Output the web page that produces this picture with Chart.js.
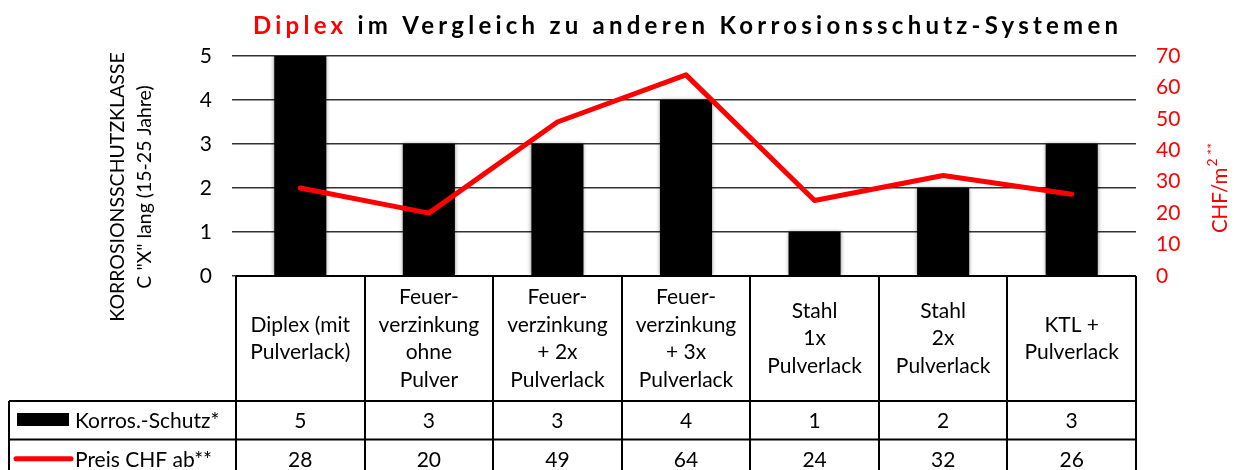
<!DOCTYPE html>
<html>
<head>
<meta charset="utf-8">
<script src="https://cdn.jsdelivr.net/npm/chart.js@4/dist/chart.umd.min.js"></script>
<style>
  html, body { margin: 0; padding: 0; background: #ffffff; }
  #wrap { width: 1234px; height: 470px; }
</style>
</head>
<body>
<div id="wrap"><canvas id="c" width="1234" height="470"></canvas></div>
<script>
// ---- data ----
const categories = [
  ["Diplex (mit", "Pulverlack)"],
  ["Feuer-", "verzinkung", "ohne", "Pulver"],
  ["Feuer-", "verzinkung", "+ 2x", "Pulverlack"],
  ["Feuer-", "verzinkung", "+ 3x", "Pulverlack"],
  ["Stahl", "1x", "Pulverlack"],
  ["Stahl", "2x", "Pulverlack"],
  ["KTL +", "Pulverlack"]
];
const korrosSchutz = [5, 3, 3, 4, 1, 2, 3];
const preisCHF = [28, 20, 49, 64, 24, 32, 26];
const seriesNames = ["Korros.-Schutz*", "Preis CHF ab**"];
const titleRed = "Diplex";
const titleRest = " im Vergleich zu anderen Korrosionsschutz-Systemen";
const leftAxisTitle = ["KORROSIONSSCHUTZKLASSE", "C \"X\" lang (15-25 Jahre)"];
const rightAxisTitle = ["CHF/m", "2 **"];

const FONT = "Lato, 'Noto Sans', sans-serif";
const RED = "#FF0000";

const tablePlugin = {
  id: 'tablePlugin',
  beforeDatasetDraw(chart, args) {
    if (args.meta.type === 'bar') {
      const ctx = chart.ctx;
      ctx.save();
      ctx.shadowColor = 'rgba(0,0,0,0.45)';
      ctx.shadowBlur = 4;
      ctx.shadowOffsetX = 0;
      ctx.shadowOffsetY = 0;
    }
  },
  afterDatasetDraw(chart, args) {
    if (args.meta.type === 'bar') chart.ctx.restore();
  },
  afterDraw(chart) {
    const ctx = chart.ctx;
    const area = chart.chartArea;
    const x = chart.scales.x;
    const n = categories.length;
    const colW = (area.right - area.left) / n;
    const top = area.bottom;
    const row1 = 401, row2 = 439.5, bottom = 480, legendLeft = 9;

    ctx.save();
    // title
    ctx.font = "bold 24px " + FONT;
    ctx.textBaseline = 'alphabetic';
    ctx.textAlign = 'left';
    const full = titleRed + titleRest;
    ctx.letterSpacing = '0px';
    const w0 = ctx.measureText(full).width;
    const targetW = 869;
    const ls = (targetW - w0) / full.length;
    ctx.letterSpacing = ls.toFixed(2) + 'px';
    let tx = 253;
    ctx.fillStyle = RED;
    ctx.fillText(titleRed, tx, 34);
    tx += ctx.measureText(titleRed).width;
    ctx.fillStyle = '#000';
    ctx.fillText(titleRest, tx, 34);
    ctx.letterSpacing = '0px';

    // left axis title
    ctx.save();
    ctx.translate(118, 187);
    ctx.rotate(-Math.PI / 2);
    ctx.font = "19.5px " + FONT;
    ctx.fillStyle = '#000';
    ctx.textAlign = 'center';
    ctx.textBaseline = 'middle';
    ctx.fillText(leftAxisTitle[0], 0, 0);
    ctx.fillText(leftAxisTitle[1], 0, 27);
    ctx.restore();

    // right axis title
    ctx.save();
    ctx.translate(1220, 188);
    ctx.rotate(-Math.PI / 2);
    ctx.fillStyle = RED;
    ctx.textBaseline = 'middle';
    ctx.font = "20.5px " + FONT;
    const wa = ctx.measureText(rightAxisTitle[0]).width;
    ctx.font = "14px " + FONT;
    const wb = ctx.measureText(rightAxisTitle[1]).width;
    const startX = -(wa + wb + 1) / 2;
    ctx.font = "20.5px " + FONT;
    ctx.textAlign = 'left';
    ctx.fillText(rightAxisTitle[0], startX, 0);
    ctx.font = "14px " + FONT;
    ctx.fillText(rightAxisTitle[1], startX + wa + 1, -8);
    ctx.restore();

    // table lines
    ctx.strokeStyle = '#000';
    ctx.lineWidth = 2;
    ctx.beginPath();
    ctx.moveTo(area.left, top); ctx.lineTo(area.right, top);
    ctx.moveTo(legendLeft, row1); ctx.lineTo(area.right, row1);
    ctx.moveTo(legendLeft, row2); ctx.lineTo(area.right, row2);
    for (let i = 0; i <= n; i++) {
      const vx = Math.round(area.left + i * colW);
      ctx.moveTo(vx, top); ctx.lineTo(vx, bottom);
    }
    ctx.moveTo(legendLeft, row1); ctx.lineTo(legendLeft, bottom);
    ctx.stroke();

    // category header text
    ctx.font = "21px " + FONT;
    ctx.fillStyle = '#000';
    ctx.textAlign = 'center';
    ctx.textBaseline = 'middle';
    const lh = 27.5;
    const hc = (top + row1) / 2;
    categories.forEach((lines, i) => {
      const cx = x.getPixelForValue(i);
      const y0 = hc - (lines.length - 1) * lh / 2;
      lines.forEach((t, j) => ctx.fillText(t, cx, y0 + j * lh));
    });
    // data rows
    const r1c = (row1 + row2) / 2 + 1, r2c = (row2 + 478) / 2 + 1;
    korrosSchutz.forEach((v, i) => ctx.fillText(String(v), x.getPixelForValue(i), r1c));
    preisCHF.forEach((v, i) => ctx.fillText(String(v), x.getPixelForValue(i), r2c));

    // legend keys
    ctx.fillStyle = '#000';
    ctx.fillRect(17, 413, 52, 13);
    ctx.strokeStyle = RED;
    ctx.lineWidth = 5;
    ctx.lineCap = 'round';
    ctx.beginPath();
    ctx.moveTo(16, r2c - 1); ctx.lineTo(71, r2c - 1);
    ctx.stroke();
    ctx.fillStyle = '#000';
    ctx.textAlign = 'left';
    ctx.fillText(seriesNames[0], 75, r1c);
    ctx.fillText(seriesNames[1], 75, r2c);
    ctx.restore();
  }
};

new Chart(document.getElementById('c'), {
  data: {
    labels: categories,
    datasets: [
      {
        type: 'bar',
        label: seriesNames[0],
        data: korrosSchutz,
        yAxisID: 'y',
        backgroundColor: '#000000',
        borderWidth: 0,
        categoryPercentage: 1.0,
        barPercentage: 0.405,
        order: 2
      },
      {
        type: 'line',
        label: seriesNames[1],
        data: preisCHF,
        yAxisID: 'y1',
        borderColor: RED,
        backgroundColor: RED,
        borderWidth: 5,
        pointRadius: 0,
        tension: 0,
        borderJoinStyle: 'round',
        borderCapStyle: 'round',
        order: 1
      }
    ]
  },
  options: {
    responsive: false,
    devicePixelRatio: 1,
    animation: false,
    layout: { padding: { top: 56, left: 0, right: 0, bottom: 0 } },
    plugins: { legend: { display: false }, tooltip: { enabled: false }, title: { display: false } },
    scales: {
      x: {
        type: 'category',
        offset: true,
        grid: { display: false },
        border: { display: false },
        ticks: { display: false },
        afterFit(s) { s.height = 194; }
      },
      y: {
        position: 'left',
        min: 0, max: 5,
        ticks: { stepSize: 1, color: '#000', font: { family: FONT, size: 21 }, padding: 20 },
        grid: { color: '#333333', lineWidth: 1.5, tickLength: 4, drawTicks: true },
        border: { display: false },
        afterFit(s) { s.width = 236; }
      },
      y1: {
        position: 'right',
        min: 0, max: 70,
        ticks: { stepSize: 10, color: RED, font: { family: FONT, size: 21 }, padding: 12 },
        grid: { display: false },
        border: { display: false },
        afterFit(s) { s.width = 98; }
      }
    }
  },
  plugins: [tablePlugin]
});
</script>
</body>
</html>
